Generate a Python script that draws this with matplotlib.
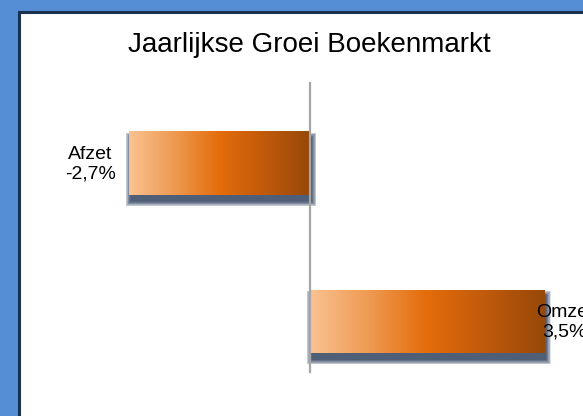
import numpy as np
import matplotlib
matplotlib.use("Agg")
import matplotlib.pyplot as plt
from matplotlib.patches import Rectangle
from matplotlib.colors import LinearSegmentedColormap

plt.rcParams['font.family'] = ['Liberation Sans', 'DejaVu Sans']

#### data ####
categories = ["Afzet", "Omzet"]
values = [-2.7, 3.5]
value_labels = ["-2,7%", "3,5%"]
title = "Jaarlijkse Groei Boekenmarkt"

#### layout (pixels of the 583x416 picture) ####
W, H = 583, 416
x_zero = 310.0      # pixel column of value 0
px_per_unit = 67.0
y_first = 163.5     # pixel row of first bar centre
y_step = 158.0
bar_px = 64.0

px_x = 1.0 / px_per_unit
px_y = 1.0 / y_step

fig = plt.figure(figsize=(W / 100, H / 100), dpi=100, facecolor='#558ED5')

# white panel with a dark edge
fig.patches.append(Rectangle((18.5 / W, -0.1), 1.2, 1 - 11.5 / H + 0.1,
                             transform=fig.transFigure, facecolor='white',
                             edgecolor='#1B3150', linewidth=2.2, zorder=-5))

ax = fig.add_axes([0, 0, 1, 1])
ax.set_zorder(2)
ax.patch.set_alpha(0)
ax.axis('off')

ypos = np.arange(len(categories))
bar_h = bar_px * px_y

# blurred shadow below each bar (offset down and a little right)
for k in range(9):
    e = k * 0.6
    lefts = [min(0, v) + (1.5 - e) * px_x for v in values]
    widths = [abs(v) + 2 * e * px_x for v in values]
    ax.barh(ypos + 6 * px_y, widths, height=bar_h + 2 * e * px_y, left=lefts,
            color='#172C4E', alpha=0.14, zorder=2, linewidth=0)

bars = ax.barh(ypos, values, height=bar_h, color='none', zorder=3, linewidth=0)

cmap = LinearSegmentedColormap.from_list(
    'oranje', ['#FAC291', '#EE9A52', '#E46C0A', '#C05A0C', '#974808'])
grad = np.linspace(0, 1, 256).reshape(1, -1)
for b in bars:
    x0, x1 = sorted([b.get_x(), b.get_x() + b.get_width()])
    y0, y1 = b.get_y(), b.get_y() + b.get_height()
    im = ax.imshow(grad, cmap=cmap, extent=[x0, x1, y1, y0], aspect='auto',
                   interpolation='bicubic', zorder=4)
    im.set_clip_path(b)

# zero line
ax.axvline(0, ymin=1 - 372 / H, ymax=1 - 83 / H, color='#A6A6A6', linewidth=1.6, zorder=5)

# category labels
for i, (c, v, lab) in enumerate(zip(categories, values, value_labels)):
    if v < 0:
        lx = v - 39 * px_x
    else:
        lx = v + 20 * px_x
    ax.text(lx, ypos[i] + 1 * px_y, c + "\n" + lab, ha='center', va='center',
            multialignment='center', fontsize=14, color='black', zorder=6)

ax.text(-1 * px_x, -(y_first - 52) * px_y, title, ha='center', va='baseline',
        fontsize=20, color='black', zorder=6)

ax.set_xlim(-x_zero * px_x, (W - x_zero) * px_x)
ax.set_ylim((H - y_first) * px_y, -y_first * px_y)

fig.savefig('out.png', dpi=100, facecolor=fig.get_facecolor())
